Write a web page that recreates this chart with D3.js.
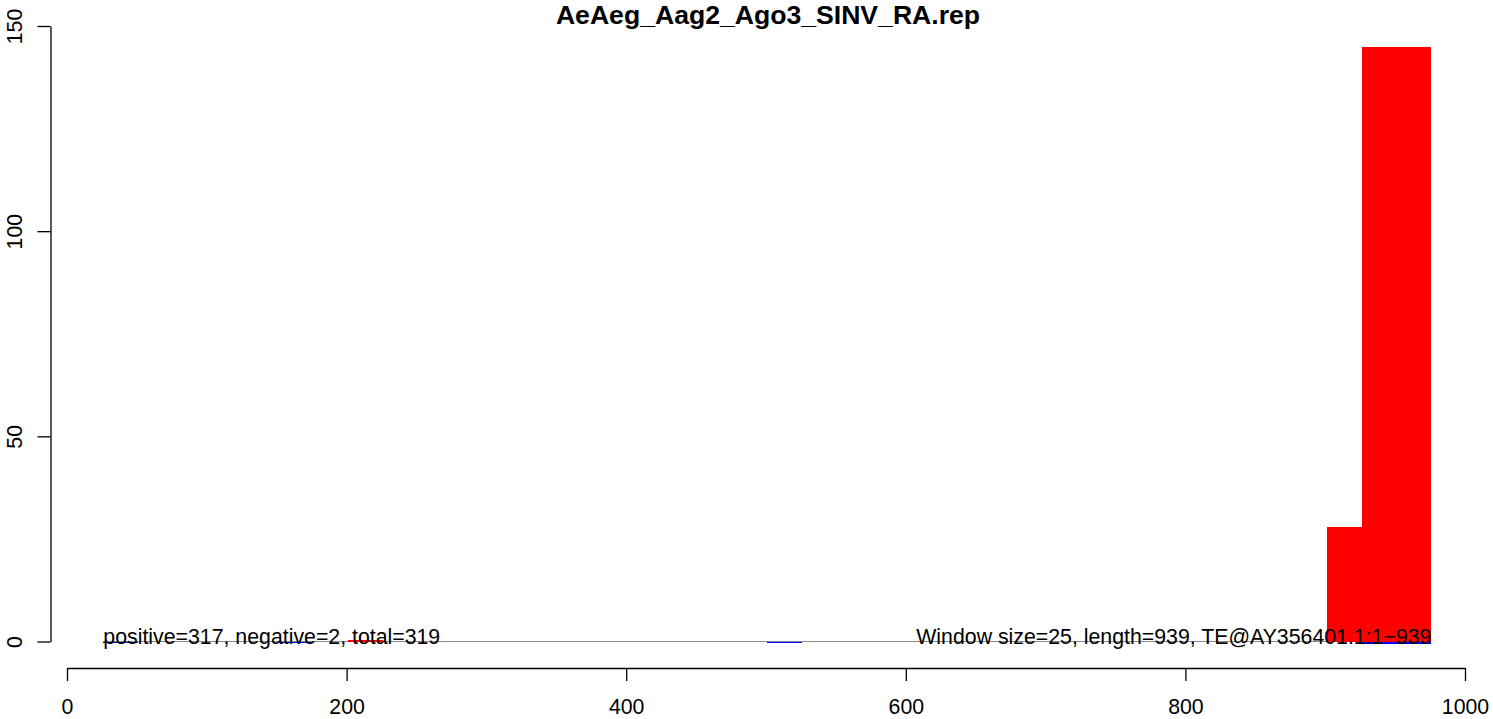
<!DOCTYPE html>
<html>
<head>
<meta charset="utf-8">
<script src="https://cdn.jsdelivr.net/npm/d3@7"></script>
<style>
  html, body { margin: 0; padding: 0; background: #fff; }
  svg { display: block; }
  text { font-family: "Liberation Sans", Arial, Helvetica, sans-serif; }
</style>
</head>
<body>
<svg id="chart" width="1493" height="719"></svg>
<script>
// ---- data ----
const title = "AeAeg_Aag2_Ago3_SINV_RA.rep";
const windowSize = 25;
const dataStart = 26;
const dataEnd = 976;
const posStarts = [201, 901, 926, 951];
const posValues = [0.3, 28, 145, 145];
const negStarts = [26, 151, 501, 926, 951];
const negValues = [-0.25, -0.25, -0.25, -0.6, -0.6];
const xTicks = [0, 200, 400, 600, 800, 1000];
const yTicks = [0, 50, 100, 150];
const leftLabel = "positive=317, negative=2, total=319";
const rightLabel = "Window size=25, length=939, TE@AY356401.1:1\u2212939";

// ---- drawing ----
const svg = d3.select("#chart");
const x = d3.scaleLinear().domain([0, 1000]).range([67, 1465]);
const y = d3.scaleLinear().domain([0, 150]).range([641.5, 26]);

// baseline
svg.append("line")
  .attr("x1", x(dataStart)).attr("x2", x(dataEnd))
  .attr("y1", y(0)).attr("y2", y(0))
  .attr("stroke", "#8c8c8c").attr("stroke-width", 1);

const pos = posStarts.map((s, i) => ({s, v: posValues[i]}));
const neg = negStarts.map((s, i) => ({s, v: negValues[i]}));

svg.append("g").selectAll("rect").data(pos).join("rect")
  .attr("x", d => x(d.s))
  .attr("width", d => x(d.s + windowSize) - x(d.s))
  .attr("y", d => y(d.v))
  .attr("height", d => y(0) - y(d.v))
  .attr("fill", "#ff0000")
  .attr("shape-rendering", "crispEdges");

svg.append("g").selectAll("rect").data(neg).join("rect")
  .attr("x", d => x(d.s))
  .attr("width", d => x(d.s + windowSize) - x(d.s))
  .attr("y", y(0))
  .attr("height", d => Math.max(1, y(d.v) - y(0)))
  .attr("fill", "#0000ff")
  .attr("shape-rendering", "crispEdges");

// annotations
svg.append("text")
  .attr("x", x(dataStart)).attr("y", y(0) + 2)
  .attr("font-size", 21.3).attr("fill", "#000")
  .text(leftLabel);
svg.append("text")
  .attr("x", x(dataEnd)).attr("y", y(0) + 2)
  .attr("text-anchor", "end")
  .attr("font-size", 21.3).attr("fill", "#000")
  .text(rightLabel);

// x axis
const xAxis = svg.append("g")
  .attr("transform", "translate(0,668)")
  .call(d3.axisBottom(x).tickValues(xTicks).tickSize(13).tickSizeOuter(0).tickPadding(18).tickFormat(d3.format("d")));
xAxis.selectAll("text").attr("font-size", 21.3).attr("font-family", "Liberation Sans, Arial, sans-serif").attr("fill", "#000");
xAxis.selectAll("line, path").attr("stroke", "#000").attr("stroke-width", 1.3);

// y axis
const yAxis = svg.append("g")
  .attr("transform", "translate(50.5,0)")
  .call(d3.axisLeft(y).tickValues(yTicks).tickSize(13).tickSizeOuter(0).tickFormat(d3.format("d")));
yAxis.selectAll("line, path").attr("stroke", "#000").attr("stroke-width", 1.3);
yAxis.selectAll("text")
  .attr("font-size", 21.3).attr("font-family", "Liberation Sans, Arial, sans-serif").attr("fill", "#000")
  .attr("text-anchor", "middle")
  .attr("dy", null)
  .attr("x", null)
  .attr("transform", "translate(-28.5,0) rotate(-90)")
  .attr("y", 0);

// title
svg.append("text")
  .attr("x", 768).attr("y", 24)
  .attr("text-anchor", "middle")
  .attr("font-size", 26.6).attr("font-weight", "bold").attr("fill", "#000")
  .text(title);
</script>
</body>
</html>
